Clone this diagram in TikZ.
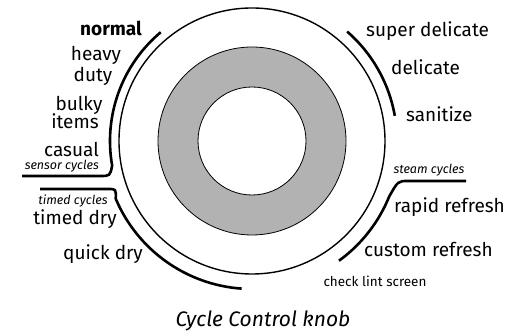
\documentclass[tikz,border=0pt]{standalone}
\usepackage{fontspec}
\setmainfont{Fira Sans}
\usetikzlibrary{calc}
\begin{document}
\begin{tikzpicture}[x=1pt,y=1pt,
  lab/.style={inner sep=0pt,font=\fontsize{19}{20}\selectfont},
  tiny/.style={inner sep=0pt,font=\fontsize{12.5}{13}\selectfont\itshape},
  thickarc/.style={line width=2.6pt},
]
\useasboundingbox (0,0) rectangle (514,336);
\coordinate (C) at (252,195);
% knob
\draw[line width=1.4pt] (C) circle[radius=133];
\fill[black!30,even odd rule] (C) circle[radius=94] (C) circle[radius=54];
\draw[line width=0.8pt] (C) circle[radius=94];
\draw[line width=0.8pt] (C) circle[radius=54];
% left (sensor) arc
\draw[thickarc] ($(C)+(130:142)$) arc[start angle=130,end angle=190,radius=142]
  .. controls (110,160) .. (100,160) -- (22,160);
% timed arc
\draw[thickarc] (40,147) -- (108,147) .. controls (116,147) .. ($(C)+(203:148)$)
  arc[start angle=203,end angle=266,radius=148];
% right arc
\draw[thickarc] ($(C)+(49:145)$) arc[start angle=49,end angle=10,radius=145];
% steam arc
\draw[thickarc] (466,155) -- (408,155) .. controls (398,155) .. ($(C)+(-22:148)$)
  arc[start angle=-22,end angle=-54,radius=148];
% labels left
\node[lab,anchor=base east,font=\fontsize{19}{20}\selectfont\bfseries] (normal) at (142,300) {normal};
\node[lab,anchor=base] (heavy) at (96,275) {heavy};
\node[lab,anchor=base] (duty) at (93,254) {duty};
\node[lab,anchor=base] (bulky) at (79,225) {bulky};
\node[lab,anchor=base] (items) at (75,207) {items};
\node[lab,anchor=base east] (casual) at (99,179) {casual};
\node[tiny,anchor=base east] (sensor) at (99,166) {sensor cycles};
\node[tiny,anchor=base] (timedc) at (73,131) {timed cycles};
\node[lab,anchor=base] (timed) at (75,111) {timed dry};
\node[lab,anchor=base] (quick) at (103,76) {quick dry};
% labels right
\node[lab,anchor=base west] (super) at (366,299) {super delicate};
\node[lab,anchor=base west] (deli) at (391,261) {delicate};
\node[lab,anchor=base west] (sani) at (406,214) {sanitize};
\node[tiny,anchor=base] (steam) at (429,162) {steam cycles};
\node[lab,anchor=base west] (rapid) at (394,123) {rapid refresh};
\node[lab,anchor=base west] (custom) at (364,79) {custom refresh};
\node[inner sep=0pt,anchor=base,font=\fontsize{13.5}{14}\selectfont] (lint) at (375,49) {check lint screen};
\node[inner sep=0pt,anchor=base,font=\fontsize{21}{22}\selectfont\itshape] (cap) at (263,9) {Cycle Control knob};
\end{tikzpicture}
\end{document}
